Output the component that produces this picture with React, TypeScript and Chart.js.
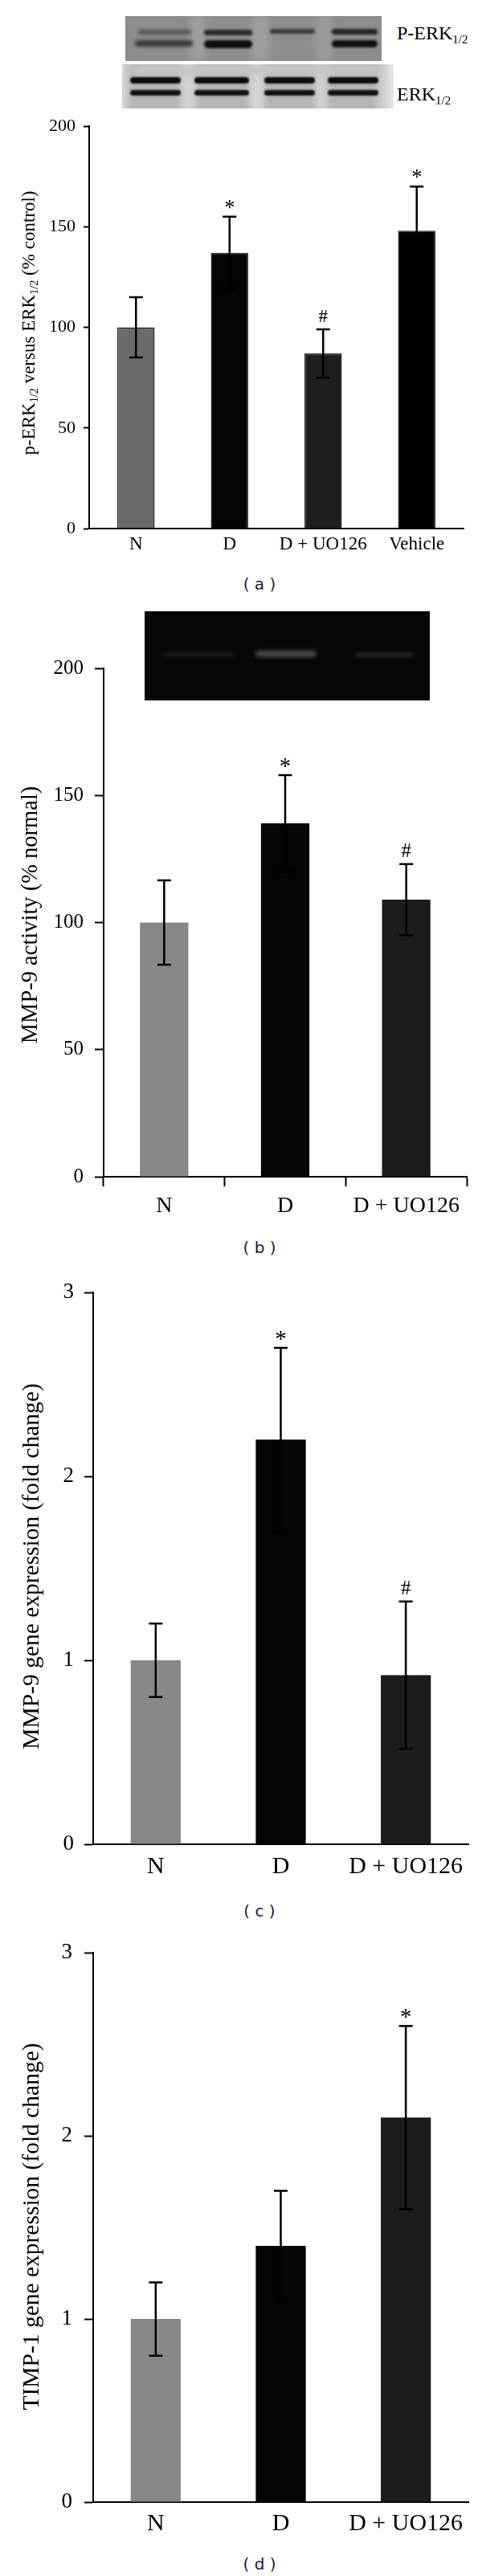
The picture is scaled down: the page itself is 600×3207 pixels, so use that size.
import React, { useEffect, useRef } from "react";
import { Chart, registerables } from "chart.js";

Chart.register(...registerables);

const SERIF = '"Liberation Serif", "Times New Roman", serif';

// ---------- Data ----------
const catsA = ["N", "D", "D + UO126", "Vehicle"];
const valsA = [100, 137, 87, 148];
const errA = [15, 18, 12, 22];
const sigA = ["", "*", "#", "*"];
const colorsA = ["#6a6a6a", "#050505", "#1e1e1e", "#000000"];
const ticksA = [0, 50, 100, 150, 200];

const catsB = ["N", "D", "D + UO126"];
const valsB = [100, 139, 109];
const errB = [16.6, 19, 14];
const sigB = ["", "*", "#"];
const ticksB = [0, 50, 100, 150, 200];

const catsC = ["N", "D", "D + UO126"];
const valsC = [1.0, 2.2, 0.92];
const errC = [0.2, 0.5, 0.4];
const sigC = ["", "*", "#"];
const ticksC = [0, 1, 2, 3];

const catsD = ["N", "D", "D + UO126"];
const valsD = [1.0, 1.4, 2.1];
const errD = [0.2, 0.3, 0.5];
const sigD = ["", "", "*"];
const ticksD = [0, 1, 2, 3];

const colorsBCD = ["#878787", "#050505", "#1c1c1c"];

type Seg = { text: string; sub?: boolean };

const titleA: Seg[] = [
  { text: "p-ERK" },
  { text: "1/2", sub: true },
  { text: " versus ERK" },
  { text: "1/2", sub: true },
  { text: " (% control)" },
];
const titleB: Seg[] = [{ text: "MMP-9 activity (% normal)" }];
const titleC: Seg[] = [{ text: "MMP-9 gene expression (fold change)" }];
const titleD: Seg[] = [{ text: "TIMP-1 gene expression (fold change)" }];

// ---------- Plugins ----------
function makeErrorPlugin(errs: number[], sig: string[], sigSize: number) {
  return {
    id: "errorBars",
    afterDatasetsDraw(chart: any) {
      const { ctx } = chart;
      const meta = chart.getDatasetMeta(0);
      const ys = chart.scales.y;
      const data = chart.data.datasets[0].data as number[];
      ctx.save();
      ctx.strokeStyle = "#000";
      ctx.lineWidth = 2.5;
      const cap = 8.5;
      meta.data.forEach((bar: any, i: number) => {
        const v = data[i];
        const e = errs[i];
        const x = bar.x;
        const yt = ys.getPixelForValue(v + e);
        const yb = ys.getPixelForValue(v - e);
        ctx.beginPath();
        ctx.moveTo(x, yt);
        ctx.lineTo(x, yb);
        ctx.moveTo(x - cap, yt);
        ctx.lineTo(x + cap, yt);
        ctx.moveTo(x - cap, yb);
        ctx.lineTo(x + cap, yb);
        ctx.stroke();
        const s = sig[i];
        if (s) {
          ctx.fillStyle = "#000";
          ctx.font = `${s === "*" ? sigSize * 1.15 : sigSize}px ${SERIF}`;
          ctx.textAlign = "center";
          ctx.textBaseline = "alphabetic";
          const centerY = yt - 17;
          const base = s === "*" ? centerY + sigSize * 0.6 : centerY + sigSize * 0.34;
          ctx.fillText(s, x, base);
        }
      });
      ctx.restore();
    },
  };
}

function makeTitlePlugin(segs: Seg[], size: number, cx: number, cy: number) {
  return {
    id: "yTitle",
    afterDraw(chart: any) {
      const { ctx } = chart;
      ctx.save();
      ctx.translate(cx, cy);
      ctx.rotate(-Math.PI / 2);
      ctx.fillStyle = "#000";
      ctx.textAlign = "left";
      ctx.textBaseline = "alphabetic";
      let total = 0;
      const m = segs.map((s) => {
        const fs = s.sub ? size * 0.62 : size;
        ctx.font = `${fs}px ${SERIF}`;
        const w = ctx.measureText(s.text).width;
        total += w;
        return { ...s, fs, w };
      });
      let x = -total / 2;
      const base = size * 0.33;
      m.forEach((s) => {
        ctx.font = `${s.fs}px ${SERIF}`;
        ctx.fillText(s.text, x, s.sub ? base + size * 0.2 : base);
        x += s.w;
      });
      ctx.restore();
    },
  };
}

// ---------- Panel definitions ----------
type Panel = {
  key: string;
  top: number;
  height: number;
  cats: string[];
  vals: number[];
  errs: number[];
  sig: string[];
  colors: string[];
  borderColor: string;
  borderWidth: number;
  ticks: number[];
  ymax: number;
  padTop: number;
  padRight: number;
  yW: number;
  xH: number;
  xPad: number;
  xTick: number;
  yTick: number;
  yPad: number;
  tickSize: number;
  labelSize: number;
  title: Seg[];
  titleSize: number;
  titleX: number;
  titleY: number;
  sigSize: number;
};

const panels: Panel[] = [
  {
    key: "a", top: 130, height: 568, cats: catsA, vals: valsA, errs: errA, sig: sigA,
    colors: colorsA, borderColor: "#2a2a2a", borderWidth: 1.5, ticks: ticksA, ymax: 200,
    padTop: 27, padRight: 23, yW: 111, xH: 40, xPad: 6, xTick: 0, yTick: 7, yPad: 10,
    tickSize: 22, labelSize: 23, title: titleA, titleSize: 23, titleX: 35, titleY: 402 - 130, sigSize: 23,
  },
  {
    key: "b", top: 800, height: 725, cats: catsB, vals: valsB, errs: errB, sig: sigB,
    colors: colorsBCD, borderColor: "#000", borderWidth: 0, ticks: ticksB, ymax: 200,
    padTop: 32, padRight: 19, yW: 129, xH: 60, xPad: 8, xTick: 12, yTick: 11, yPad: 14,
    tickSize: 25, labelSize: 28, title: titleB, titleSize: 28.5, titleX: 37, titleY: 1139 - 800, sigSize: 25,
  },
  {
    key: "c", top: 1580, height: 766, cats: catsC, vals: valsC, errs: errC, sig: sigC,
    colors: colorsBCD, borderColor: "#000", borderWidth: 0, ticks: ticksC, ymax: 3,
    padTop: 27, padRight: 17, yW: 116, xH: 50, xPad: 10, xTick: 0, yTick: 11, yPad: 13,
    tickSize: 27, labelSize: 30, title: titleC, titleSize: 29.5, titleX: 38, titleY: 1950 - 1580, sigSize: 25,
  },
  {
    key: "d", top: 2400, height: 765, cats: catsD, vals: valsD, errs: errD, sig: sigD,
    colors: colorsBCD, borderColor: "#000", borderWidth: 0, ticks: ticksD, ymax: 3,
    padTop: 28, padRight: 17, yW: 116, xH: 50, xPad: 9, xTick: 0, yTick: 11, yPad: 15,
    tickSize: 27, labelSize: 30, title: titleD, titleSize: 29.5, titleX: 38, titleY: 2772 - 2400, sigSize: 25,
  },
];

function makeConfig(p: Panel): any {
  return {
    type: "bar",
    data: {
      labels: p.cats,
      datasets: [
        {
          data: p.vals,
          backgroundColor: p.colors,
          borderColor: p.borderColor,
          borderWidth: p.borderWidth,
          barPercentage: 0.4,
          categoryPercentage: 1,
        },
      ],
    },
    options: {
      responsive: false,
      maintainAspectRatio: false,
      animation: false,
      events: [],
      layout: { padding: { top: p.padTop, right: p.padRight, left: 0, bottom: 0 } },
      plugins: { legend: { display: false }, tooltip: { enabled: false } },
      scales: {
        x: {
          grid: {
            display: p.xTick > 0,
            drawOnChartArea: false,
            drawTicks: p.xTick > 0,
            tickLength: p.xTick,
            offset: true,
            color: "#000",
            tickColor: "#000",
            tickWidth: 2,
          },
          border: { display: true, color: "#000", width: 2 },
          ticks: {
            font: { family: SERIF, size: p.labelSize },
            color: "#000",
            padding: p.xPad,
            maxRotation: 0,
            autoSkip: false,
          },
          afterFit: (s: any) => {
            s.height = p.xH;
          },
        },
        y: {
          min: 0,
          max: p.ymax,
          afterBuildTicks: (s: any) => {
            s.ticks = p.ticks.map((v) => ({ value: v }));
          },
          ticks: {
            font: { family: SERIF, size: p.tickSize },
            color: "#000",
            padding: p.yPad,
          },
          grid: {
            display: true,
            drawOnChartArea: false,
            drawTicks: true,
            tickLength: p.yTick,
            color: "#000",
            tickColor: "#000",
            tickWidth: 2,
          },
          border: { display: true, color: "#000", width: 2 },
          afterFit: (s: any) => {
            s.width = p.yW;
          },
        },
      },
    },
    plugins: [
      makeErrorPlugin(p.errs, p.sig, p.sigSize),
      makeTitlePlugin(p.title, p.titleSize, p.titleX, p.titleY),
    ],
  };
}

function PanelChart({ p }: { p: Panel }) {
  const ref = useRef<HTMLCanvasElement | null>(null);
  useEffect(() => {
    if (!ref.current) return;
    const chart = new Chart(ref.current, makeConfig(p));
    return () => chart.destroy();
  }, [p]);
  return (
    <canvas
      ref={ref}
      width={600}
      height={p.height}
      style={{ position: "absolute", left: 0, top: p.top, width: 600, height: p.height }}
    />
  );
}

// ---------- Decorative blot images ----------
function Band(props: { x: number; y: number; w: number; h: number; c: string; b?: number }) {
  const { x, y, w, h, c, b = 1.5 } = props;
  return (
    <div
      style={{
        position: "absolute",
        left: x,
        top: y - h / 2,
        width: w,
        height: h,
        background: c,
        filter: `blur(${b}px)`,
        borderRadius: h / 2,
      }}
    />
  );
}

function BlotA() {
  return (
    <>
      <div
        style={{
          position: "absolute", left: 156, top: 20, width: 319, height: 56,
          background: "#8d8d8d", overflow: "hidden",
        }}
      >
        <Band x={80} y={28} w={20} h={60} c="#9e9e9e" b={4} />
        <Band x={157} y={28} w={22} h={60} c="#9e9e9e" b={4} />
        <Band x={236} y={28} w={22} h={60} c="#9a9a9a" b={4} />
        <Band x={16} y={20} w={66} h={6} c="#555" b={2} />
        <Band x={12} y={34} w={72} h={8} c="#3a3a3a" b={2} />
        <Band x={98} y={20} w={60} h={7} c="#2a2a2a" b={1.5} />
        <Band x={98} y={35} w={60} h={10} c="#0e0e0e" b={1.5} />
        <Band x={180} y={19} w={56} h={6} c="#3e3e3e" b={1.5} />
        <Band x={257} y={19} w={57} h={7} c="#262626" b={1.5} />
        <Band x={257} y={34} w={57} h={9} c="#101010" b={1.5} />
      </div>
      <div
        style={{
          position: "absolute", left: 152, top: 80, width: 338, height: 55,
          background: "linear-gradient(90deg,#d8d8d8 0%,#b4b4b4 4%,#b4b4b4 92%,#e8e8e8 100%)",
          overflow: "hidden",
        }}
      >
        <Band x={73} y={28} w={18} h={70} c="#d4d4d4" b={4} />
        <Band x={158} y={28} w={19} h={70} c="#d4d4d4" b={4} />
        <Band x={240} y={28} w={16} h={70} c="#d0d0d0" b={4} />
        <Band x={12} y={8} w={310} h={14} c="#c6c6c6" b={4} />
        {[10, 90, 177, 256].map((x, i) => (
          <React.Fragment key={i}>
            <Band x={x} y={20} w={i === 0 ? 63 : i === 1 ? 68 : 63} h={8} c="#0a0a0a" b={1.2} />
            <Band x={x} y={35} w={i === 0 ? 63 : i === 1 ? 68 : 63} h={7} c="#111" b={1.2} />
          </React.Fragment>
        ))}
      </div>
      <div
        style={{
          position: "absolute", left: 494, top: 29, fontFamily: SERIF, fontSize: 24,
          lineHeight: "24px", color: "#000", whiteSpace: "nowrap",
        }}
      >
        P-ERK<span style={{ fontSize: 15, position: "relative", top: 5 }}>1/2</span>
      </div>
      <div
        style={{
          position: "absolute", left: 494, top: 105, fontFamily: SERIF, fontSize: 24,
          lineHeight: "24px", color: "#000", whiteSpace: "nowrap",
        }}
      >
        ERK<span style={{ fontSize: 15, position: "relative", top: 5 }}>1/2</span>
      </div>
    </>
  );
}

function GelB() {
  return (
    <div
      style={{
        position: "absolute", left: 180, top: 761, width: 355, height: 111,
        background: "#070707", overflow: "hidden", zIndex: 2,
      }}
    >
      <Band x={22} y={54} w={90} h={6} c="#181818" b={2} />
      <Band x={138} y={53} w={76} h={8} c="#4a4a4a" b={2.5} />
      <Band x={262} y={54} w={72} h={6} c="#252525" b={2} />
    </div>
  );
}

function Caption({ text, y }: { text: string; y: number }) {
  return (
    <div
      style={{
        position: "absolute", left: 263, width: 120, top: y - 12, textAlign: "center",
        fontFamily: '"DejaVu Sans", Verdana, sans-serif', fontSize: 20, lineHeight: "24px",
        color: "#1a1a3a", whiteSpace: "pre",
      }}
    >
      {text}
    </div>
  );
}

export default function App() {
  return (
    <div
      style={{
        position: "absolute", left: 0, top: 0, width: 600, height: 3207,
        background: "#fff", overflow: "hidden",
      }}
    >
      {panels.map((p) => (
        <PanelChart key={p.key} p={p} />
      ))}
      <BlotA />
      <GelB />
      <Caption text="( a )" y={727} />
      <Caption text="( b )" y={1553} />
      <Caption text="( c )" y={2379} />
      <Caption text="( d )" y={3192} />
    </div>
  );
}
